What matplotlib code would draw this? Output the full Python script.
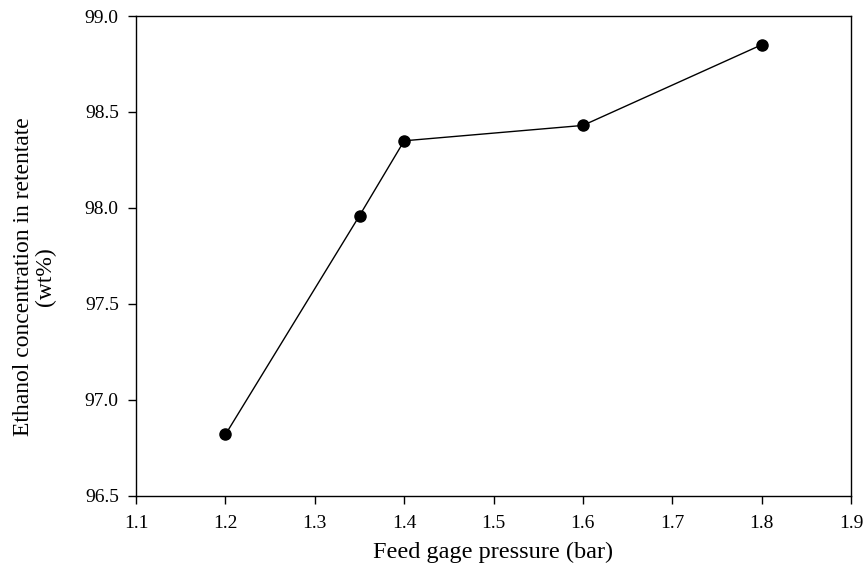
import matplotlib.pyplot as plt

# Feed gage pressure vs ethanol concentration in retentate
pressure = [1.2, 1.35, 1.4, 1.6, 1.8]
ethanol = [96.82, 97.96, 98.35, 98.43, 98.85]

x_ticks = [1.1, 1.2, 1.3, 1.4, 1.5, 1.6, 1.7, 1.8, 1.9]
y_ticks = [96.5, 97.0, 97.5, 98.0, 98.5, 99.0]

plt.rcParams['font.family'] = ['Liberation Serif', 'DejaVu Serif']

fig = plt.figure(figsize=(8.67, 5.72), dpi=100)
ax = fig.add_axes([0.157, 0.133, 0.8245, 0.839])

ax.plot(pressure, ethanol, color='black', linewidth=1.0,
        marker='o', markersize=8, markerfacecolor='black', markeredgecolor='black')

ax.set_xlim(1.1, 1.9)
ax.set_ylim(96.5, 99.0)
ax.set_xticks(x_ticks)
ax.set_yticks(y_ticks)
ax.set_xticklabels([f"{v:.1f}" for v in x_ticks])
ax.set_yticklabels([f"{v:.1f}" for v in y_ticks])
ax.tick_params(direction='out', length=5.5, width=1, labelsize=14, top=False, right=False)
ax.tick_params(axis='y', pad=7)
ax.tick_params(axis='x', pad=8)
for s in ax.spines.values():
    s.set_linewidth(1.0)

ax.set_xlabel("Feed gage pressure (bar)", fontsize=17.5)
ax.xaxis.set_label_coords(0.5, -0.118)
ax.xaxis.label.set_va('center')
ax.set_ylabel("Ethanol concentration in retentate\n(wt%)", fontsize=17, linespacing=1.05)
ax.yaxis.set_label_coords(-0.142, 0.458)
ax.yaxis.label.set_va('center')

fig.savefig("out.png", dpi=100)
